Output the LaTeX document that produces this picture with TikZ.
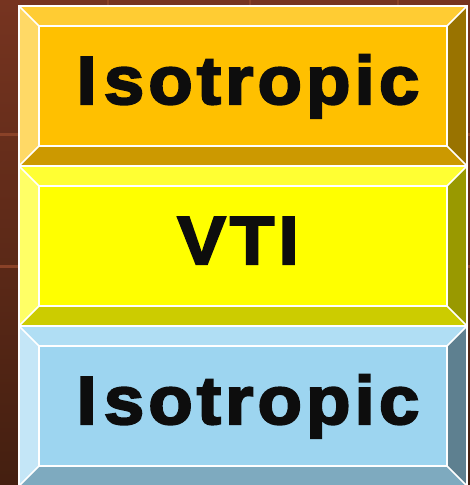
\documentclass[tikz,border=0pt]{standalone}
\usepackage{fontspec}
\setmainfont{Liberation Sans}
\newfontfamily\layerfont[LetterSpace=6,FakeBold=3,FakeStretch=1.07]{Liberation Sans Bold}

% backdrop
\definecolor{bgtop}{HTML}{763420}
\definecolor{bgbot}{HTML}{441F10}
\definecolor{tileline}{HTML}{8A4228}
% isotropic (amber) layer
\definecolor{amTop}{HTML}{FFCC33}
\definecolor{amLeft}{HTML}{FFD966}
\definecolor{amFace}{HTML}{FFC000}
\definecolor{amBot}{HTML}{CC9900}
\definecolor{amRight}{HTML}{997300}
% VTI (yellow) layer
\definecolor{yeTop}{HTML}{FFFF33}
\definecolor{yeLeft}{HTML}{FFFF66}
\definecolor{yeFace}{HTML}{FFFF00}
\definecolor{yeBot}{HTML}{CCCC00}
\definecolor{yeRight}{HTML}{999900}
% isotropic (blue) layer
\definecolor{blTop}{HTML}{B0DEF4}
\definecolor{blLeft}{HTML}{C4E6F7}
\definecolor{blFace}{HTML}{9DD5F0}
\definecolor{blBot}{HTML}{7EAABF}
\definecolor{blRight}{HTML}{5E8090}
\definecolor{ink}{HTML}{0D0D0D}

\tikzset{
  edge/.style={draw=white, line width=1.5pt, line join=miter},
  layertext/.style={anchor=base, inner sep=0pt, text=ink, font=\layerfont\fontsize{68}{70}\selectfont},
}

% one bevelled slab: #1 vertical offset, #2 top, #3 left, #4 face, #5 bottom, #6 right
\newcommand{\bevellayer}[6]{%
  \begin{scope}[shift={(0,#1)}]
    \fill[#2] (19,6) -- (467,6) -- (447,26) -- (39,26) -- cycle;
    \fill[#3] (19,6) -- (39,26) -- (39,146) -- (19,166) -- cycle;
    \fill[#5] (19,166) -- (39,146) -- (447,146) -- (467,166) -- cycle;
    \fill[#6] (467,6) -- (467,166) -- (447,146) -- (447,26) -- cycle;
    \fill[#4] (39,26) rectangle (447,146);
    \draw[edge] (19,6) rectangle (467,166);
    \draw[edge] (39,26) rectangle (447,146);
    \draw[edge] (19,6) -- (39,26) (467,6) -- (447,26)
                (19,166) -- (39,146) (467,166) -- (447,146);
  \end{scope}}

\begin{document}
\begin{tikzpicture}[x=1pt, y=-1pt]
  \useasboundingbox (0,0) rectangle (470,485);
  % brown tiled backdrop
  \shade[top color=bgtop, bottom color=bgbot] (0,0) rectangle (470,485);
  \fill[tileline] (0,133) rectangle (470,136);
  \fill[tileline] (0,265) rectangle (470,268);
  \foreach \vx in {108,250,398} \fill[tileline] (\vx-1,0) rectangle (\vx+1,6);

  \bevellayer{0}{amTop}{amLeft}{amFace}{amBot}{amRight}
  \bevellayer{160}{yeTop}{yeLeft}{yeFace}{yeBot}{yeRight}
  \bevellayer{320}{blTop}{blLeft}{blFace}{blBot}{blRight}

  \node[layertext] (iso1) at (248,104) {I\kern7pt sotropic};
  \node[layertext] (vti)  at (238,264) {VTI};
  \node[layertext] (iso2) at (248,424) {I\kern7pt sotropic};
\end{tikzpicture}
\end{document}
